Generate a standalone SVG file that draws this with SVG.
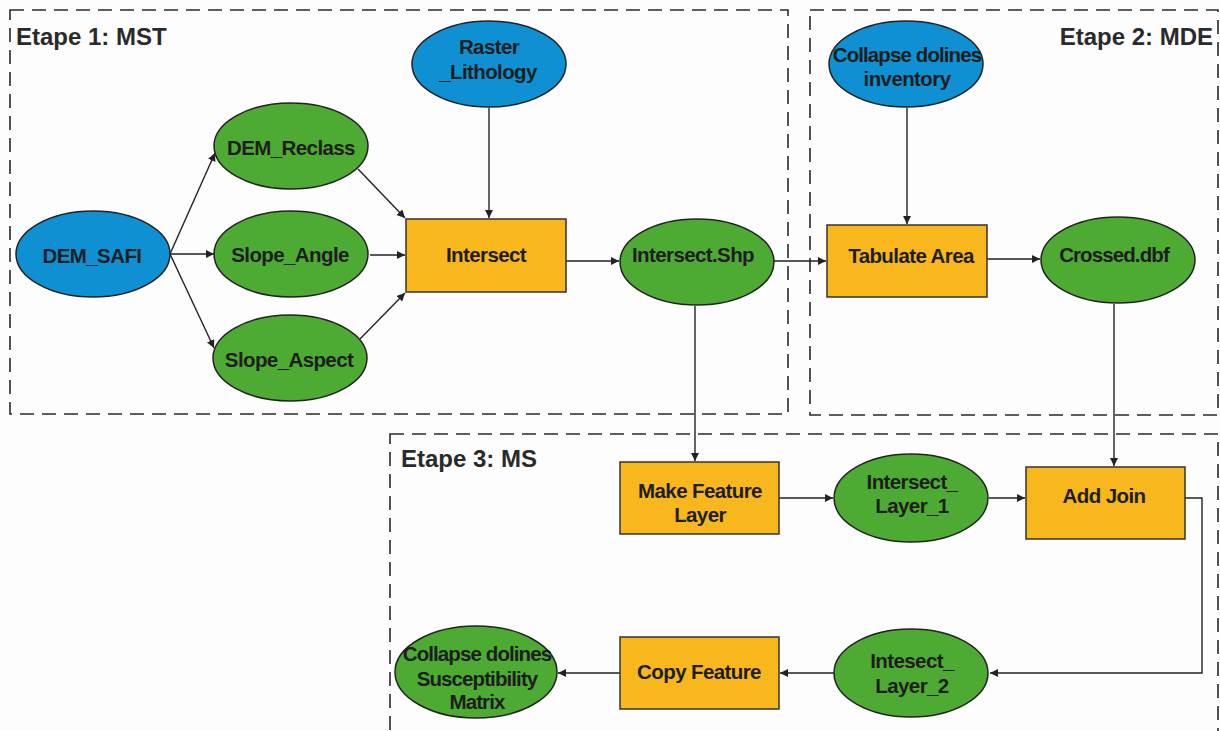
<svg xmlns="http://www.w3.org/2000/svg" width="1220" height="731" viewBox="0 0 1220 731">
<style>
.stage{fill:none;stroke:#2a2a2a;stroke-width:1.6;stroke-dasharray:14 8}
.title{font-family:"Liberation Sans",Arial,sans-serif;font-weight:bold;font-size:24px;fill:#2a2a2a}
.blue{fill:#0E90D2;stroke:#222;stroke-width:1.5}
.green{fill:#4DAA32;stroke:#222;stroke-width:1.5}
.tool{fill:#F8B71C;stroke:#333;stroke-width:1.5}
.lbl{font-family:"Liberation Sans",Arial,sans-serif;font-weight:bold;font-size:20.5px;fill:#1e1e1e;text-anchor:middle;letter-spacing:-0.6px}
.tight{letter-spacing:-0.9px}
.edge{fill:none;stroke:#222;stroke-width:1.4;marker-end:url(#ah)}
</style>
<defs>
<marker id="ah" viewBox="0 0 10 10" refX="10" refY="5" markerWidth="8" markerHeight="8" markerUnits="userSpaceOnUse" orient="auto">
<path d="M0,0 L10,5 L0,10 z" fill="#222"/>
</marker>
</defs>
<rect width="1220" height="731" fill="#fdfdfd"/>
<g id="stages">
<rect class="stage" x="10" y="10" width="778" height="404"/>
<rect class="stage" x="810" y="10" width="408" height="405"/>
<rect class="stage" x="390" y="434" width="828" height="310"/>
<text class="title" x="16" y="45">Etape 1: MST</text>
<text class="title" x="1213" y="45" text-anchor="end">Etape 2: MDE</text>
<text class="title" x="401" y="467">Etape 3: MS</text>
</g>
<g id="connectors">
<line class="edge" x1="170" y1="254" x2="215" y2="153"/>
<line class="edge" x1="170" y1="254" x2="214" y2="254"/>
<line class="edge" x1="170" y1="254" x2="214" y2="348"/>
<line class="edge" x1="358" y1="169" x2="405" y2="218"/>
<line class="edge" x1="370" y1="255" x2="405" y2="255"/>
<line class="edge" x1="360" y1="339" x2="405" y2="293"/>
<line class="edge" x1="489" y1="108" x2="489" y2="218"/>
<line class="edge" x1="566" y1="261" x2="619" y2="261"/>
<line class="edge" x1="774" y1="261" x2="826" y2="261"/>
<line class="edge" x1="907" y1="108" x2="907" y2="224"/>
<line class="edge" x1="987" y1="259" x2="1040" y2="259"/>
<line class="edge" x1="695" y1="306" x2="695" y2="461"/>
<line class="edge" x1="1114" y1="304" x2="1114" y2="466"/>
<line class="edge" x1="779" y1="498" x2="833" y2="498"/>
<line class="edge" x1="989" y1="498" x2="1025" y2="498"/>
<polyline class="edge" points="1185,498 1202,498 1202,673 990,673"/>
<line class="edge" x1="834" y1="673" x2="780" y2="673"/>
<line class="edge" x1="620" y1="673" x2="558" y2="673"/>
</g>
<g id="DEM_SAFI"><ellipse class="blue" cx="93" cy="254" rx="77" ry="43"/><text class="lbl" x="92" y="263">DEM_SAFI</text></g>
<g id="DEM_Reclass"><ellipse class="green" cx="291" cy="146" rx="77" ry="43"/><text class="lbl" x="291" y="155">DEM_Reclass</text></g>
<g id="Slope_Angle"><ellipse class="green" cx="291" cy="254" rx="77" ry="43"/><text class="lbl" x="290" y="262">Slope_Angle</text></g>
<g id="Slope_Aspect"><ellipse class="green" cx="290" cy="358" rx="77" ry="43"/><text class="lbl" x="289" y="367">Slope_Aspect</text></g>
<g id="Raster_Lithology"><ellipse class="blue" cx="489" cy="64" rx="77" ry="43"/><text class="lbl" x="489" y="54">Raster</text><text class="lbl" x="488" y="79">_Lithology</text></g>
<g id="Intersect"><rect class="tool" x="406" y="219" width="160" height="73"/><text class="lbl" x="486" y="262">Intersect</text></g>
<g id="Intersect_Shp"><ellipse class="green" cx="697" cy="262" rx="77" ry="43"/><text class="lbl" x="693" y="262">Intersect.Shp</text></g>
<g id="Collapse_inventory"><ellipse class="blue" cx="906" cy="64" rx="77" ry="43"/><text class="lbl tight" x="907" y="62">Collapse dolines</text><text class="lbl" x="907" y="86">inventory</text></g>
<g id="Tabulate_Area"><rect class="tool" x="827" y="225" width="160" height="72"/><text class="lbl" x="911" y="263">Tabulate Area</text></g>
<g id="Crossed_dbf"><ellipse class="green" cx="1118" cy="260" rx="77" ry="43"/><text class="lbl tight" x="1114" y="262">Crossed.dbf</text></g>
<g id="Make_Feature_Layer"><rect class="tool" x="620" y="462" width="159" height="72"/><text class="lbl" x="700" y="498">Make Feature</text><text class="lbl" x="700" y="522">Layer</text></g>
<g id="Intersect_Layer_1"><ellipse class="green" cx="911" cy="498" rx="77" ry="44"/><text class="lbl" x="912" y="489">Intersect_</text><text class="lbl" x="912" y="513">Layer_1</text></g>
<g id="Add_Join"><rect class="tool" x="1026" y="467" width="159" height="72"/><text class="lbl" x="1104" y="503">Add Join</text></g>
<g id="Intesect_Layer_2"><ellipse class="green" cx="911" cy="673" rx="77" ry="44"/><text class="lbl" x="912" y="668">Intesect_</text><text class="lbl" x="912" y="693">Layer_2</text></g>
<g id="Copy_Feature"><rect class="tool" x="620" y="637" width="159" height="72"/><text class="lbl" x="699" y="679">Copy Feature</text></g>
<g id="Susceptibility_Matrix"><ellipse class="green" cx="476" cy="672" rx="81" ry="46"/><text class="lbl tight" x="477" y="661">Collapse dolines</text><text class="lbl tight" x="477" y="686">Susceptibility</text><text class="lbl tight" x="477" y="709">Matrix</text></g>
</svg>
